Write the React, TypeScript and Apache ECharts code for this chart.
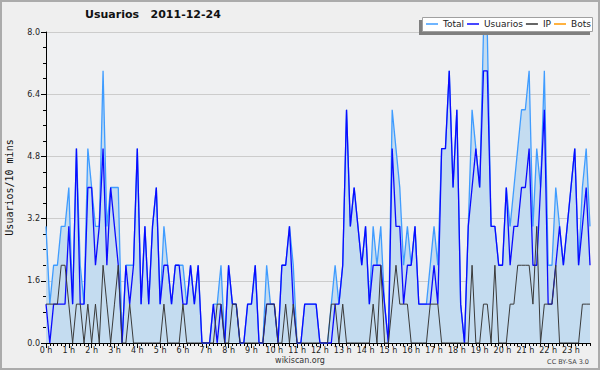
import React, { useEffect, useRef } from "react";
import * as echarts from "echarts";

const hourLabels = ["0 h","1 h","2 h","3 h","4 h","5 h","6 h","7 h","8 h","9 h","10 h","11 h","12 h","13 h","14 h","15 h","16 h","17 h","18 h","19 h","20 h","21 h","22 h","23 h"];
const minuteSlots = ["00","10","20","30","40","50"];

const yTicks = [0, 1.6, 3.2, 4.8, 6.4, 8.0];

const totalValues = [
  3,1,2,2,3,3, 4,1,5,2,1,5, 4,3,3,7,3,4, 4,4,0,2,2,2,
  5,1,3,1,3,4, 1,3,2,1,2,2, 2,1,2,1,2,0, 0,0,1,1,2,0,
  2,1,1,0,0,1, 1,2,0,0,2,1, 1,0,2,2,3,2, 0,0,1,1,1,1,
  0,0,0,1,2,1, 2,6,3,4,3,2, 3,1,3,2,3,1, 0,6,5,4,2,3,
  2,3,1,1,1,2, 3,2,5,5,7,4, 6,1,0,3,6,5, 4,8,8,3,3,2,
  2,4,3,4,5,6, 6,7,3,5,4,7, 2,2,4,3,2,3, 4,5,2,4,5,3
];

const usuariosValues = [
  1,0,1,1,1,1, 3,1,5,1,1,4, 4,2,3,5,2,4, 3,2,0,2,1,2,
  5,1,3,1,3,4, 1,2,2,1,2,2, 1,1,2,1,2,0, 0,0,1,0,1,0,
  2,1,1,0,0,1, 1,2,0,0,1,1, 1,0,2,2,3,1, 0,0,1,1,1,1,
  0,0,0,0,1,1, 2,6,3,4,3,2, 3,1,2,2,2,1, 0,5,3,3,1,2,
  2,3,1,1,1,1, 2,1,5,5,7,4, 6,1,0,3,4,5, 4,7,7,3,3,2,
  2,4,2,3,3,4, 4,5,2,2,4,6, 1,1,2,3,2,3, 4,5,2,3,4,2
];

const ipValues = [
  1,1,1,1,2,2, 1,0,1,1,0,1, 0,1,0,2,1,0, 1,2,0,0,1,0,
  0,0,0,0,0,0, 0,1,0,0,0,0, 1,0,0,0,0,0, 0,0,0,1,1,0,
  0,1,1,0,0,0, 0,0,0,0,1,1, 1,0,0,1,0,1, 0,0,0,0,0,0,
  0,0,0,1,1,0, 1,0,0,0,0,0, 0,0,1,0,2,0, 0,1,2,1,1,1,
  0,0,0,0,0,1, 1,1,0,0,0,0, 0,0,0,0,2,0, 0,1,1,0,2,0,
  0,0,1,1,2,2, 2,2,1,3,0,1, 1,1,2,0,0,0, 0,0,0,1,1,1
];

const botsValues: number[] = [];

const categories: string[] = [];
hourLabels.forEach((h, hi) => {
  minuteSlots.forEach((m) => categories.push(`${hi}:${m}`));
});

const FONT = "DejaVu Sans";

export default function App() {
  const ref = useRef<HTMLDivElement>(null);
  useEffect(() => {
    if (!ref.current) return;
    const chart = echarts.init(ref.current, undefined, { renderer: "svg" });
    const gridLeft = 46, gridTop = 32, gridRight = 10, gridBottom = 27;
    chart.setOption({
      animation: false,
      backgroundColor: "#efefef",
      textStyle: { fontFamily: FONT },
      title: {
        text: "Usuarios   2011-12-24",
        left: 85,
        top: 9,
        padding: 0,
        textStyle: { fontFamily: FONT, fontSize: 11, fontWeight: "bold", color: "#111" },
      },
      graphic: [
        { type: "rect", shape: { x: 1, y: 1, width: 598, height: 368 }, style: { fill: "none", stroke: "#ababab", lineWidth: 2 }, silent: true, z: 100 },
        { type: "rect", shape: { x: 419, y: 20, width: 171, height: 15 }, style: { fill: "#7f7f7f" }, z: 10 },
        { type: "rect", shape: { x: 422.5, y: 17.5, width: 170, height: 14 }, style: { fill: "#ffffff", stroke: "#a0a0a0", lineWidth: 1 }, z: 11 },
        { type: "text", left: "center", top: 356, style: { text: "wikiscan.org", font: `8px ${FONT}`, fill: "#333" }, z: 12 },
        { type: "text", right: 11, top: 358, style: { text: "CC BY-SA 3.0", font: `6.5px ${FONT}`, fill: "#444" }, z: 12 },
      ],
      legend: {
        left: 426,
        top: 18,
        padding: 0,
        itemGap: 3,
        itemWidth: 12,
        itemHeight: 1.5,
        icon: "rect",
        z: 20,
        textStyle: { fontFamily: FONT, fontSize: 9, color: "#222", lineHeight: 12 },
        data: ["Total", "Usuarios", "IP", "Bots"],
      },
      grid: {
        left: gridLeft,
        top: gridTop,
        right: gridRight,
        bottom: gridBottom,
        show: true,
        backgroundColor: "#eff0f2",
        borderWidth: 0,
        containLabel: false,
        outerBoundsMode: "none",
      },
      xAxis: [
        {
          type: "category",
          data: categories,
          boundaryGap: false,
          axisLine: { lineStyle: { color: "#000", width: 1 } },
          axisTick: { show: true, interval: 0, length: 3, lineStyle: { color: "#000" } },
          axisLabel: { show: false },
          splitLine: { show: false },
        },
        {
          type: "category",
          data: categories,
          boundaryGap: false,
          position: "bottom",
          axisLine: { show: false },
          axisTick: { show: true, interval: 5, length: 5, lineStyle: { color: "#000" } },
          axisLabel: {
            interval: 5,
            margin: 3,
            fontFamily: FONT,
            fontSize: 8,
            color: "#222",
            formatter: (_v: string, idx: number) => hourLabels[Math.floor(idx / 6)],
          },
          splitLine: { show: false },
        },
      ],
      yAxis: {
        type: "value",
        min: yTicks[0],
        max: yTicks[yTicks.length - 1],
        interval: 1.6,
        name: "Usuarios/10 mins",
        nameLocation: "middle",
        nameGap: 32,
        nameRotate: 90,
        nameTextStyle: { fontFamily: "DejaVu Sans Mono", fontSize: 10, color: "#111" },
        axisLine: { show: true, lineStyle: { color: "#000", width: 1 } },
        axisTick: { show: true, length: 5, lineStyle: { color: "#000" } },
        minorTick: { show: true, splitNumber: 4, length: 3, lineStyle: { color: "#000" } },
        axisLabel: { margin: 6, fontFamily: FONT, fontSize: 8, color: "#222", formatter: (v: number) => v.toFixed(1) },
        splitLine: { show: true, lineStyle: { color: "#cccccc", width: 1 } },
        minorSplitLine: { show: false },
      },
      series: [
        {
          name: "Total",
          type: "line",
          data: totalValues,
          symbol: "none",
          color: "#3f9cff",
          itemStyle: { color: "#3f9cff" },
          lineStyle: { color: "#3f9cff", width: 1.3 },
          areaStyle: { color: "#c4dcf0", opacity: 1 },
          z: 2,
        },
        {
          name: "Usuarios",
          type: "line",
          data: usuariosValues,
          symbol: "none",
          color: "#0a0aff",
          itemStyle: { color: "#0a0aff" },
          lineStyle: { color: "#0a0aff", width: 1.3 },
          z: 3,
        },
        {
          name: "IP",
          type: "line",
          data: ipValues,
          symbol: "none",
          color: "#333333",
          itemStyle: { color: "#333333" },
          lineStyle: { color: "#3a3a3a", width: 1 },
          z: 4,
        },
        {
          name: "Bots",
          type: "line",
          data: botsValues,
          symbol: "none",
          color: "#ff9900",
          itemStyle: { color: "#ff9900" },
          lineStyle: { color: "#ff9900", width: 1 },
          z: 5,
        },
      ],
    });
    return () => chart.dispose();
  }, []);
  return <div ref={ref} style={{ position: "fixed", left: 0, top: 0, width: 600, height: 370 }} />;
}
